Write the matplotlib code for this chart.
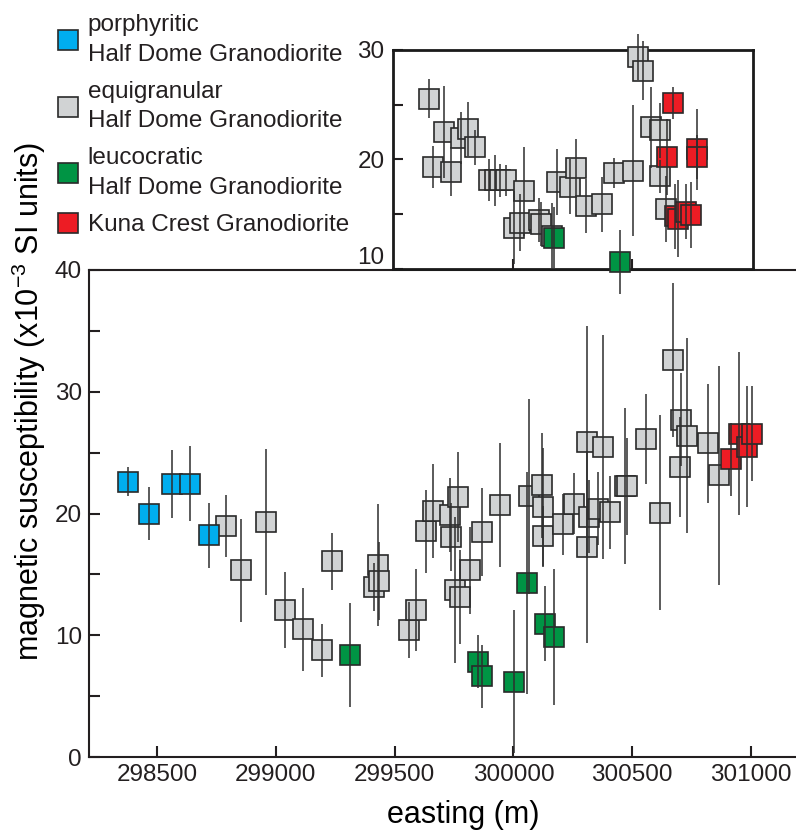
import matplotlib.pyplot as plt
from matplotlib.lines import Line2D
from matplotlib.ticker import MultipleLocator

plt.rcParams['font.family'] = ['Liberation Sans', 'DejaVu Sans']
plt.rcParams['mathtext.fontset'] = 'custom'
plt.rcParams['mathtext.rm'] = 'Liberation Sans'
plt.rcParams['text.color'] = '#231f20'

# main transect: easting (m), susceptibility (x10^-3 SI), error
blue_e = [298377, 298465, 298564, 298639, 298719]
blue_v = [22.6, 20.0, 22.45, 22.45, 18.2]
blue_err = [1.2, 2.2, 2.8, 3.1, 2.7]

grey_e = [298789, 298852, 298959, 299039, 299116, 299196, 299235, 299412, 299432, 299436,
          299559, 299591, 299632, 299663, 299735, 299739, 299753, 299765, 299777, 299817,
          299868, 299945, 300067, 300122, 300123, 300126, 300207, 300255, 300308, 300308,
          300319, 300355, 300376, 300408, 300470, 300480, 300559, 300617, 300672, 300700,
          300704, 300732, 300820, 300866]
grey_v = [18.95, 15.33, 19.33, 12.07, 10.49, 8.76, 16.07, 13.96, 15.74, 14.43,
          10.4, 12.07, 18.54, 20.23, 19.88, 18.1, 13.72, 21.36, 13.17, 15.33,
          18.46, 20.67, 21.41, 22.3, 20.5, 18.15, 19.1, 20.8, 17.25, 25.87,
          19.74, 20.4, 25.46, 20.1, 22.23, 22.23, 26.1, 20.07, 32.6, 23.85,
          27.7, 26.4, 25.76, 23.14]
grey_err = [2.55, 4.25, 6.0, 3.15, 3.4, 2.15, 2.33, 2.0, 5.0, 3.2,
            2.3, 3.35, 3.4, 3.85, 3.06, 2.8, 6.0, 3.7, 3.85, 3.55,
            3.6, 5.1, 8.0, 4.3, 4.9, 2.5, 2.5, 2.5, 7.85, 9.5,
            3.0, 3.0, 9.2, 3.0, 6.4, 4.0, 3.7, 8.0, 6.3, 4.1,
            3.8, 8.0, 4.9, 9.0]

green_e = [299314, 299851, 299869, 300003, 300058, 300134, 300172]
green_v = [8.38, 7.83, 6.63, 6.19, 14.29, 10.95, 9.86]
green_err = [4.27, 2.2, 2.6, 5.9, 9.1, 3.1, 5.6]

red_e = [300917, 300951, 300985, 301006]
red_v = [24.45, 26.56, 25.5, 26.56]
red_err = [3.0, 6.7, 5.0, 3.9]

# inset transect
in_grey_e = [299643, 299661, 299707, 299735, 299780, 299808, 299839, 299899, 299922, 299944,
             299970, 300001, 300029, 300043, 300107, 300114, 300161, 300182, 300237, 300265,
             300307, 300374, 300421, 300503, 300525, 300545, 300579, 300617, 300618, 300642]
in_grey_v = [25.55, 19.34, 22.5, 18.9, 21.96, 22.8, 21.1, 18.1, 18.1, 18.1,
             18.1, 13.77, 14.23, 17.1, 14.45, 14.08, 13.04, 17.97, 17.5, 19.2,
             15.75, 15.9, 18.77, 18.98, 29.4, 28.1, 22.94, 18.47, 22.67, 15.45]
in_grey_err = [1.8, 1.9, 4.2, 2.2, 2.4, 2.45, 1.6, 1.9, 2.35, 1.5,
               1.4, 3.35, 2.6, 4.05, 2.0, 2.0, 3.0, 3.0, 2.5, 2.7,
               2.5, 2.5, 1.4, 6.0, 2.1, 2.7, 3.7, 1.5, 2.5, 3.0]

in_green_e = [300172, 300447]
in_green_v = [12.86, 10.64]
in_green_err = [2.8, 2.9]

in_red_e = [300646, 300671, 300681, 300694, 300728, 300746, 300772, 300772]
in_red_v = [20.23, 25.13, 14.8, 14.6, 15.23, 14.9, 20.93, 20.2]
in_red_err = [3.5, 1.45, 3.0, 3.5, 2.5, 3.0, 3.7, 2.0]

labels = ['porphyritic\nHalf Dome Granodiorite',
          'equigranular\nHalf Dome Granodiorite',
          'leucocratic\nHalf Dome Granodiorite',
          'Kuna Crest Granodiorite']
colors = ['#00aeef', '#d1d3d4', '#009444', '#ed1c24']

edge = '#2a2a2a'
ms = 15


def draw_group(ax, e, v, err, color):
    ax.plot(e, v, 's', ms=ms, mfc=color, mec=edge, mew=1.2, clip_on=False, zorder=3)
    ax.errorbar(e, v, yerr=err, fmt='none', ecolor='#2e2e2e', elinewidth=1.1,
                capsize=0, clip_on=False, zorder=4)


fig = plt.figure(figsize=(7.96, 8.32), dpi=100)

ax = fig.add_axes([89 / 796, 75 / 832, 1 - 89 / 796, 487 / 832])
draw_group(ax, grey_e, grey_v, grey_err, colors[1])
draw_group(ax, blue_e, blue_v, blue_err, colors[0])
draw_group(ax, green_e, green_v, green_err, colors[2])
draw_group(ax, red_e, red_v, red_err, colors[3])

ax.set_xlim(298213.8, 301189.4)
ax.set_ylim(0, 40)
ax.xaxis.set_major_locator(MultipleLocator(500))
ax.yaxis.set_major_locator(MultipleLocator(10))
ax.yaxis.set_minor_locator(MultipleLocator(5))
ax.tick_params(which='both', direction='in', length=8, width=1.5, color='#231f20',
               labelsize=17.5, labelcolor='#231f20', pad=5)
ax.spines['right'].set_visible(False)
for s in ['left', 'bottom', 'top']:
    ax.spines[s].set_linewidth(1.5)
    ax.spines[s].set_color('#231f20')

ax.set_xlabel('easting (m)', fontsize=22)
ax.xaxis.set_label_coords(0.53, -0.088)
ax.set_ylabel(r'magnetic susceptibility (x10$^{\mathregular{-3}}$ SI units)', fontsize=22)
ax.yaxis.set_label_coords(-0.058, 0.729)

# inset
ins = fig.add_axes([393 / 796, 563 / 832, 360 / 796, 219 / 832], zorder=5)
ins.patch.set_alpha(0)
draw_group(ins, in_grey_e, in_grey_v, in_grey_err, colors[1])
draw_group(ins, in_green_e, in_green_v, in_green_err, colors[2])
draw_group(ins, in_red_e, in_red_v, in_red_err, colors[3])
ins.set_xlim(299493, 301008)
ins.set_ylim(10, 30)
ins.set_xticks([300000, 300500])
ins.set_yticks([10, 20, 30])
ins.set_yticks([15, 25], minor=True)
ins.tick_params(which='both', direction='in', length=7, width=1.5, color='#231f20',
                labelsize=17.5, labelcolor='#231f20', pad=6, labelbottom=False)
for s in ins.spines.values():
    s.set_linewidth(2.0)
    s.set_color('#1a1a1a')
for lab in ins.get_yticklabels():
    if lab.get_text() == '10':
        lab.set_va('bottom')

handles = [Line2D([], [], ls='none', marker='s', ms=ms, mfc=c, mec=edge, mew=1.2) for c in colors]
leg = fig.legend(handles, labels, loc='upper left', bbox_to_anchor=(57 / 796, 1 - 14 / 832),
                 frameon=False, fontsize=17.5, handlelength=0.9, handletextpad=0.37,
                 labelspacing=0.62, borderpad=0, borderaxespad=0)
for t in leg.get_texts():
    t.set_linespacing(1.45)

fig.savefig('out.png', dpi=100)
